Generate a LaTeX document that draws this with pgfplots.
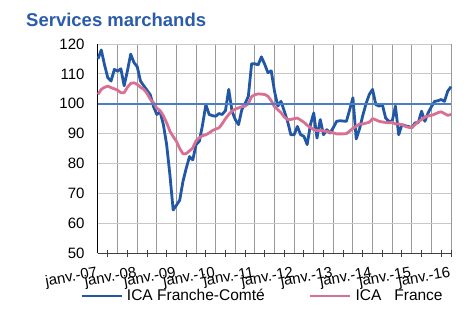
\documentclass[border=0pt]{standalone}
\usepackage{fontspec}
\setmainfont{Liberation Sans}
\usepackage{pgfplots}
\usepackage{pgfplotstable}
\pgfplotsset{compat=1.18}
\definecolor{fcblue}{HTML}{2157A4}
\definecolor{frpink}{HTML}{D97094}
\definecolor{refblue}{HTML}{4A7EC6}
\definecolor{titleblue}{HTML}{2A5CAA}

\pgfplotstableread{
m v
0 115
1 118
2 113
3 108.7
4 107.6
5 111.5
6 110.9
7 111.7
8 106
9 111
10 116.6
11 113.8
12 112.4
13 107.6
14 106
15 104.5
16 103
17 99
18 96.4
19 97.3
20 93
21 86.3
22 76.2
23 64.4
24 66
25 67.7
26 74
27 78.4
28 82.3
29 81.2
30 86.3
31 87.4
32 93
33 99.7
34 96.4
35 96
36 95.8
37 96.7
38 96.4
39 97.7
40 104.8
41 97.5
42 94.7
43 93
44 98
45 100
46 102.5
47 113.4
48 113.4
49 113
50 115.7
51 113.2
52 110.4
53 111
54 104.2
55 99.2
56 100.8
57 97.5
58 94.1
59 89.6
60 89.6
61 92.4
62 89.6
63 89.1
64 86.3
65 93
66 96.9
67 88.5
68 94.7
69 89.6
70 91.3
71 90.2
72 92
73 94.1
74 94.3
75 94.2
76 94.1
77 98
78 102
79 88.2
80 91.5
81 96
82 100
83 103.1
84 104.8
85 99.7
86 99.2
87 99.7
88 95.2
89 94.1
90 94.1
91 99.2
92 89.6
93 93
94 92.6
95 92.4
96 91.9
97 93.6
98 93.7
99 97.5
100 94.1
101 96.9
102 99
103 100.8
104 101
105 101.4
106 100.8
107 104.2
108 105.7
}\fcdata

\pgfplotstableread{
m v
0 103.1
1 104.8
2 105.5
3 105.9
4 105.4
5 105
6 104.5
7 103.7
8 103.7
9 105.5
10 106.8
11 107
12 106.5
13 105.5
14 104.8
15 103.5
16 101.5
17 100.3
18 98.5
19 97.7
20 96
21 93.6
22 90.8
23 89
24 87.4
25 85
26 83.2
27 83.3
28 84.2
29 85.2
30 87.6
31 88.6
32 89.3
33 89.6
34 90.2
35 91
36 91.5
37 91.9
38 93.3
39 95
40 96.4
41 97.5
42 98.2
43 98.6
44 99
45 99.2
46 100
47 102.4
48 103
49 103.3
50 103.2
51 103.1
52 102.5
53 101
54 99
55 98
56 97
57 95.5
58 94.7
59 94.7
60 95
61 95.2
62 94.5
63 93.8
64 92.8
65 92
66 91.3
67 91
68 91.1
69 90.9
70 90.7
71 90.5
72 90.2
73 89.9
74 89.9
75 89.9
76 90
77 90.8
78 91.8
79 92.4
80 93.2
81 93.2
82 93.5
83 93.8
84 95
85 94.6
86 94.1
87 93.9
88 93.7
89 93.6
90 93.8
91 93.2
92 93.2
93 93
94 92.4
95 92.1
96 91.9
97 93
98 94
99 94.7
100 95.5
101 95.9
102 96.1
103 96.5
104 97
105 97.3
106 96.7
107 96.1
108 96.4
}\frdata

\begin{document}
\begin{tikzpicture}
\path[use as bounding box] (-98pt,-61pt) rectangle (375pt,253pt);
\begin{axis}[
  scale only axis, width=353pt, height=209pt,
  xmin=0, xmax=108, ymin=50, ymax=120,
  axis x line*=bottom, axis y line*=left,
  axis line style={-},
  x axis line style={black!75, line width=1pt},
  y axis line style={black, line width=1pt},
  xtick={0,6,...,108},
  xticklabels={janv.-07,,janv.-08,,janv.-09,,janv.-10,,janv.-11,,janv.-12,,janv.-13,,janv.-14,,janv.-15,,janv.-16},
  ytick={50,60,...,120},
  major tick length=0pt,
  xmajorgrids, ymajorgrids,
  x grid style={black!40, line width=1pt},
  y grid style={black!22, line width=1pt},
  tick label style={font=\fontsize{15}{17}\selectfont},
  /pgf/number format/assume math mode=true,
  yticklabel style={anchor=east, xshift=-10pt},
  xticklabel style={yshift=-24pt, rotate=10, anchor=base east, inner sep=0pt},
  extra x ticks={3,9,15,21,27,33,39,45,51,57,63,69,75,81,87,93,99,105,108},
  extra x tick labels={},
  extra x tick style={grid=none, major tick length=7pt, tick align=center, tick style={black!75, line width=1pt}},
  clip=false,
  legend columns=2,
  legend cell align=left,
  legend image code/.code={\draw[#1] (0pt,0pt) -- (40pt,0pt);},
  legend style={draw=none, fill=none, inner sep=0pt,
    at={(axis description cs:-0.051,-0.2057)}, anchor=west,
    font=\fontsize{15.5}{17}\selectfont,
    nodes={inner sep=0pt},
    /tikz/every odd column/.append style={column sep=4pt},
    /tikz/every even column/.append style={column sep=44pt}},
]
\addplot[fcblue, line width=2.8pt, line join=round] table[x=m, y=v] {\fcdata};
\addlegendentry{ICA Franche-Comté}
\addplot[frpink, line width=2.8pt, line join=round] table[x=m, y=v] {\frdata};
\addlegendentry{ICA\ \ \ France}
\addplot[refblue, line width=2.2pt, forget plot] coordinates {(0,100) (108,100)};
\end{axis}
\node[anchor=base west, inner sep=0pt, font=\fontsize{18.5}{20}\selectfont\bfseries, text=titleblue] at (-72pt,227pt) {Services marchands};
\end{tikzpicture}
\end{document}
